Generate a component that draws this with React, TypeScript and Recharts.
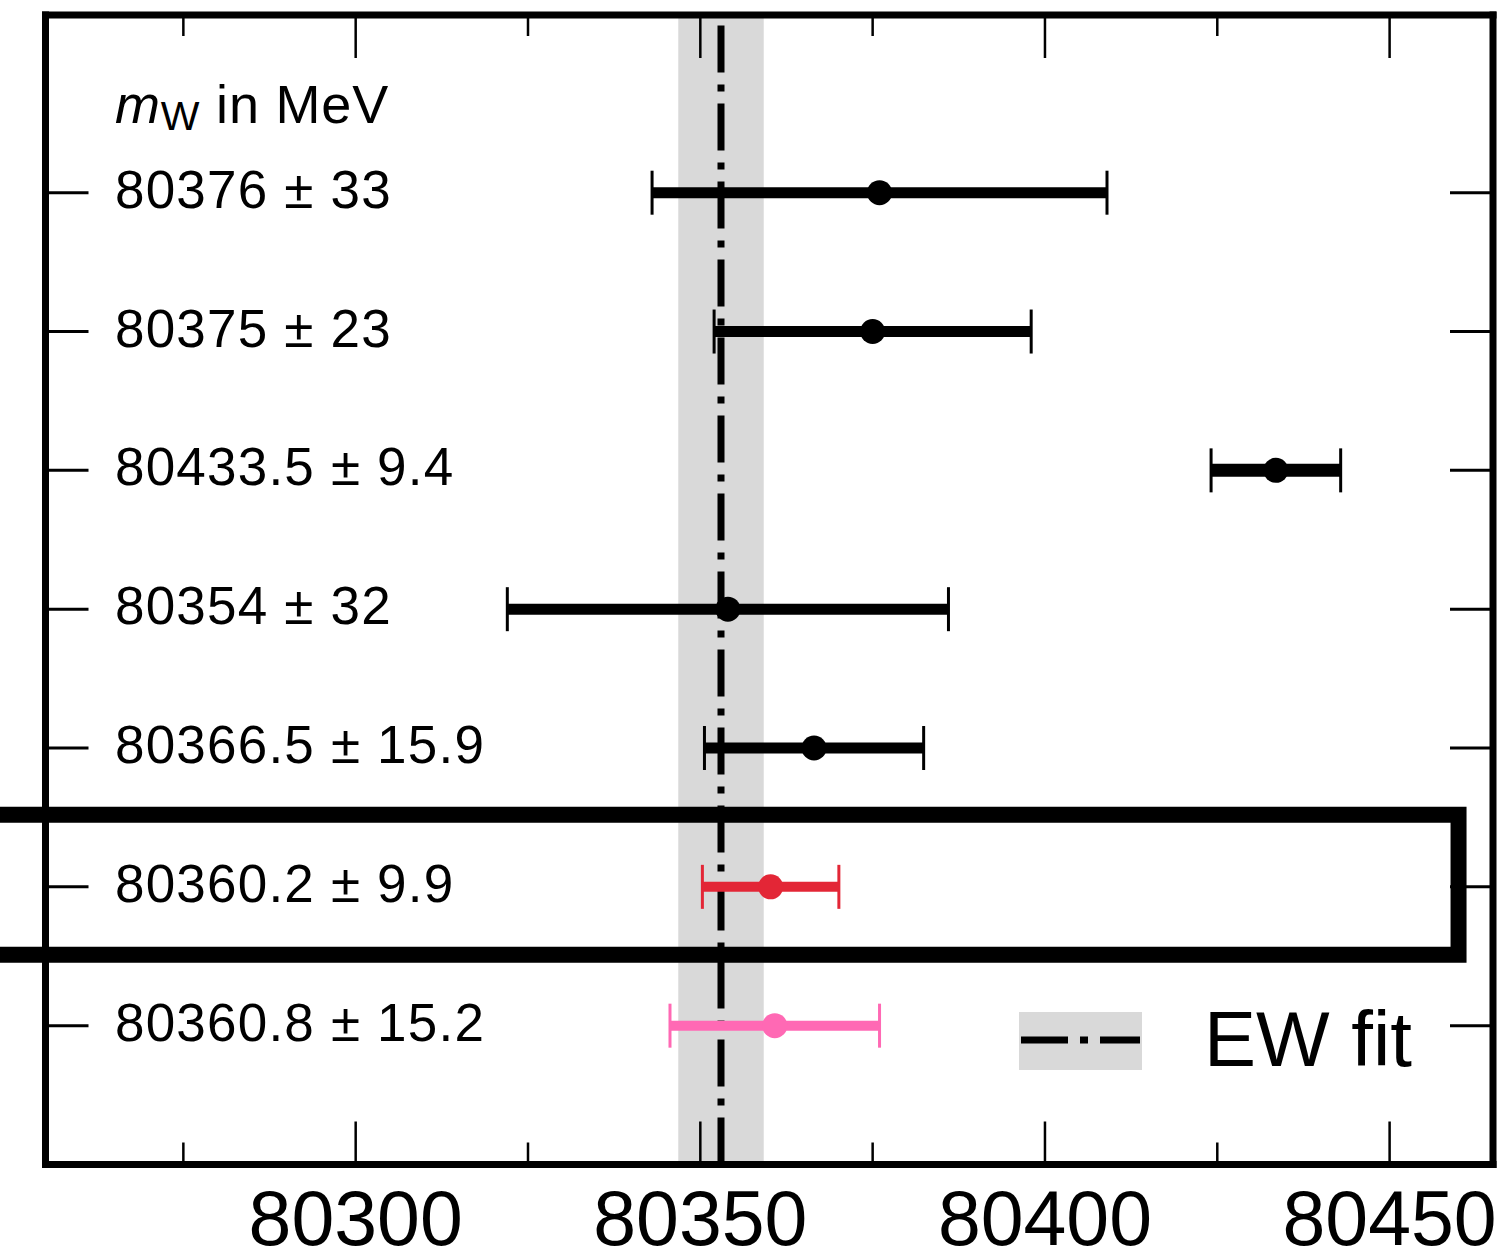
import { ScatterChart, Scatter, XAxis, YAxis, ErrorBar, ReferenceArea, ReferenceLine } from "recharts"

// measurements, top row first (MeV)
const MEASUREMENTS = [80376, 80375, 80433.5, 80354, 80366.5, 80360.2, 80360.8]
const UNCERTAINTIES = [33, 23, 9.4, 32, 15.9, 9.9, 15.2]

const EW_FIT = 80353
const EW_FIT_ERR = 6.2

const X_DOMAIN = [80255, 80465]
const X_TICKS = [80275, 80300, 80325, 80350, 80375, 80400, 80425, 80450]
const X_LABELED = [80300, 80350, 80400, 80450]
const HIGHLIGHT_INDEX = 5

const N = MEASUREMENTS.length
const Y_TICKS = MEASUREMENTS.map((_, i) => N - i)

// styles per row
const ROW_COLORS = ["#000", "#000", "#000", "#000", "#000", "#e32636", "#ff69b4"]
const BAR_WIDTHS = [11, 11, 13, 11, 11, 10, 10]

const FONT = "'Liberation Sans', Arial, Helvetica, sans-serif"
const PLOT_TOP = 15
const PLOT_BOTTOM = 1164.5
const PLOT_LEFT = 45.5
const PLOT_RIGHT = 1493
const FRAME = { stroke: "#000", strokeWidth: 7, strokeLinecap: "square" as const }

const rows = MEASUREMENTS.map((v, i) => ({ x: v, y: N - i, err: UNCERTAINTIES[i] }))

function BottomTick(props: any) {
  const { x, payload } = props
  const major = X_LABELED.includes(payload.value)
  return (
    <g>
      <line x1={x} x2={x} y1={PLOT_BOTTOM} y2={PLOT_BOTTOM - (major ? 43 : 22)} stroke="#000" strokeWidth={2.5} />
      {major && (
        <text x={x} y={1245} textAnchor="middle" fontSize={77} fontFamily={FONT} fill="#000">
          {payload.value}
        </text>
      )}
    </g>
  )
}

function TopTick(props: any) {
  const { x, payload } = props
  const major = X_LABELED.includes(payload.value)
  return <line x1={x} x2={x} y1={PLOT_TOP} y2={PLOT_TOP + (major ? 43 : 21)} stroke="#000" strokeWidth={2.5} />
}

function LeftTick(props: any) {
  const { y, payload } = props
  const i = N - payload.value
  return (
    <g>
      <line x1={PLOT_LEFT} x2={PLOT_LEFT + 43} y1={y} y2={y} stroke="#000" strokeWidth={3} />
      <text x={115} y={y + 15} fontSize={53} letterSpacing={1.2} fontFamily={FONT} fill="#000">
        {`${MEASUREMENTS[i]} ± ${UNCERTAINTIES[i]}`}
      </text>
    </g>
  )
}

function RightTick(props: any) {
  const { y } = props
  return <line x1={PLOT_RIGHT} x2={PLOT_RIGHT - 43} y1={y} y2={y} stroke="#000" strokeWidth={3} />
}

function Header() {
  return (
    <text x={115} y={123} fontSize={54} letterSpacing={0.8} fontFamily={FONT} fill="#000">
      <tspan fontStyle="italic">m</tspan>
      <tspan fontSize={41} dy={7}>W</tspan>
      <tspan dy={-7}> in MeV</tspan>
    </text>
  )
}

export default function App() {
  return (
    <div style={{ position: "absolute", left: 0, top: 0, width: 1511, height: 1251, background: "#fff" }}>
      <ScatterChart width={1511} height={1251} margin={{ top: 0, right: 0, bottom: 0, left: 0 }}>
        <XAxis
          type="number"
          dataKey="x"
          domain={X_DOMAIN}
          ticks={X_TICKS}
          allowDataOverflow
          height={86.5}
          tickLine={false}
          axisLine={FRAME}
          tick={<BottomTick />}
        />
        <XAxis
          xAxisId="top"
          orientation="top"
          type="number"
          dataKey="x"
          domain={X_DOMAIN}
          ticks={X_TICKS}
          allowDataOverflow
          height={15}
          tickLine={false}
          axisLine={FRAME}
          tick={<TopTick />}
        />
        <YAxis
          type="number"
          dataKey="y"
          domain={[0, 8.28]}
          ticks={Y_TICKS}
          allowDataOverflow
          width={45.5}
          tickLine={false}
          axisLine={FRAME}
          tick={<LeftTick />}
          label={{ content: () => <Header /> }}
        />
        <YAxis
          yAxisId="right"
          orientation="right"
          type="number"
          dataKey="y"
          domain={[0, 8.28]}
          ticks={Y_TICKS}
          allowDataOverflow
          width={18}
          tickLine={false}
          axisLine={FRAME}
          tick={<RightTick />}
        />
        <ReferenceArea
          x1={EW_FIT - EW_FIT_ERR}
          x2={EW_FIT + EW_FIT_ERR}
          y1={0}
          y2={8.28}
          fill="#d9d9d9"
          fillOpacity={1}
          stroke="none"
        />
        <ReferenceLine x={EW_FIT} stroke="#000" strokeWidth={7} strokeDasharray="47 12 7 12" />
        {rows.map((r, i) => (
          <Scatter
            key={i}
            data={[r]}
            isAnimationActive={false}
            shape={(p: any) => <circle cx={p.cx} cy={p.cy} r={12.5} fill={ROW_COLORS[i]} />}
          >
            <ErrorBar dataKey="err" direction="x" width={22} strokeWidth={3} stroke={ROW_COLORS[i]} isAnimationActive={false} />
            <ErrorBar dataKey="err" direction="x" width={0} strokeWidth={BAR_WIDTHS[i]} stroke={ROW_COLORS[i]} isAnimationActive={false} />
          </Scatter>
        ))}
        <ReferenceArea
          x1={80240}
          x2={80460}
          y1={N - HIGHLIGHT_INDEX - 0.49}
          y2={N - HIGHLIGHT_INDEX + 0.52}
          fill="none"
          stroke="#000"
          strokeWidth={16}
          ifOverflow="visible"
        />
      </ScatterChart>
      <div style={{ position: "absolute", left: 1019, top: 1012, width: 123, height: 58, background: "#d9d9d9" }}>
        <svg width={123} height={58} style={{ display: "block" }}>
          <line x1={2} x2={121} y1={28} y2={28} stroke="#000" strokeWidth={7} strokeDasharray="47 12 8 12" />
        </svg>
      </div>
      <div
        style={{
          position: "absolute",
          left: 1204,
          top: 994,
          fontFamily: FONT,
          fontSize: 78,
          lineHeight: "90px",
          color: "#000",
          whiteSpace: "nowrap",
        }}
      >
        EW fit
      </div>
    </div>
  )
}
